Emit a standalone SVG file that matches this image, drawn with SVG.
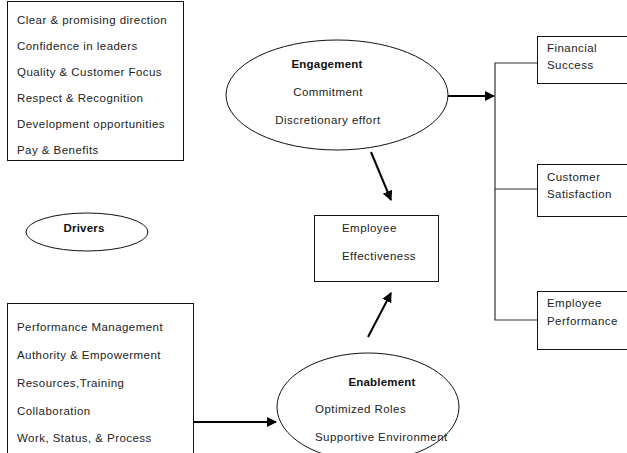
<svg xmlns="http://www.w3.org/2000/svg" width="627" height="453" viewBox="0 0 627 453">
<defs>
<style>
text{font-family:"Liberation Sans",Arial,sans-serif;font-size:11.5px;fill:#222;letter-spacing:0.45px}
.b{font-weight:bold;fill:#111;letter-spacing:0.2px}
.m{text-anchor:middle}
.box{fill:#fff;stroke:#111;stroke-width:1}
.ell{fill:#fff;stroke:#111;stroke-width:1}
.arr{stroke:#000;stroke-width:2;fill:none;marker-end:url(#ah)}
.tree{stroke:#333;stroke-width:1.2;fill:none}
</style>
<marker id="ah" viewBox="0 0 10 10" refX="9" refY="5" markerWidth="5" markerHeight="5" orient="auto" markerUnits="strokeWidth">
<path d="M0,0 L10,5 L0,10 Z" fill="#000"/>
</marker>
</defs>
<rect width="627" height="453" fill="#fff"/>

<g id="connectors">
<line class="arr" x1="448" y1="96" x2="494" y2="96"/>
<path class="tree" d="M537,63 H495 V320 H537 M495,189 H537"/>
<line class="arr" x1="371" y1="152" x2="391" y2="200"/>
<line class="arr" x1="368" y1="337" x2="391" y2="293"/>
<line class="arr" x1="193" y1="422" x2="276" y2="422"/>
</g>

<g id="drivers-top">
<rect class="box" x="7.5" y="1.5" width="176" height="159"/>
<text x="17" y="24">Clear &amp; promising direction</text>
<text x="17" y="50">Confidence in leaders</text>
<text x="17" y="76">Quality &amp; Customer Focus</text>
<text x="17" y="102">Respect &amp; Recognition</text>
<text x="17" y="128">Development opportunities</text>
<text x="17" y="154">Pay &amp; Benefits</text>
</g>

<g id="drivers-label">
<ellipse class="ell" cx="87" cy="232" rx="61" ry="19"/>
<text class="b m" x="84" y="232">Drivers</text>
</g>

<g id="drivers-bottom">
<rect class="box" x="7.5" y="303.5" width="186" height="160"/>
<text x="17" y="331">Performance Management</text>
<text x="17" y="359">Authority &amp; Empowerment</text>
<text x="17" y="387">Resources,Training</text>
<text x="17" y="415">Collaboration</text>
<text x="17" y="442">Work, Status, &amp; Process</text>
</g>

<g id="engagement">
<ellipse class="ell" cx="337" cy="95" rx="111" ry="55"/>
<text class="b m" x="327" y="68">Engagement</text>
<text class="m" x="328" y="96">Commitment</text>
<text class="m" x="328" y="124">Discretionary effort</text>
</g>

<g id="effectiveness">
<rect class="box" x="314.5" y="215.5" width="124" height="66"/>
<text x="342" y="232">Employee</text>
<text x="342" y="260">Effectiveness</text>
</g>

<g id="enablement">
<ellipse class="ell" cx="368" cy="407" rx="91" ry="54"/>
<text class="b m" x="382" y="386">Enablement</text>
<text x="315" y="413">Optimized Roles</text>
<text x="315" y="441">Supportive Environment</text>
</g>

<g id="financial">
<rect class="box" x="537.5" y="36.5" width="100" height="47"/>
<text x="547" y="52">Financial</text>
<text x="547" y="69">Success</text>
</g>

<g id="customer">
<rect class="box" x="537.5" y="164.5" width="100" height="52"/>
<text x="547" y="181">Customer</text>
<text x="547" y="198">Satisfaction</text>
</g>

<g id="employee-performance">
<rect class="box" x="537.5" y="291.5" width="100" height="58"/>
<text x="547" y="307">Employee</text>
<text x="547" y="325">Performance</text>
</g>
</svg>
